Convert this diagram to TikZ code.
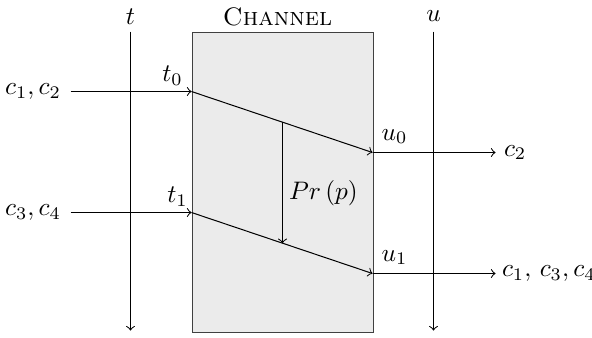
\documentclass[tikz,border=0pt]{standalone}
\begin{document}
\begin{tikzpicture}[x=0.395pt,y=-0.395pt,
  flow/.style={->,line width=0.4pt},
  lbl/.style={inner sep=0pt}]
\useasboundingbox (0,0) rectangle (592,337);
\begin{scope}[shift={(0.5,0.5)}]
% channel box
\node[draw=black!75,fill=black!8,minimum width=181*0.395pt,minimum height=300*0.395pt,inner sep=0pt,anchor=north west] (box) at (191,31) {};
\node[lbl] (chan) at (277,16) {\textsc{Channel}};
% time lines
\coordinate (ttop) at (130,31);
\coordinate (tbot) at (130,330);
\coordinate (utop) at (433,31);
\coordinate (ubot) at (433,330);
\draw[flow] (ttop) -- (tbot);
\draw[flow] (utop) -- (ubot);
\node[lbl] (tl) at (130,16) {$t$};
\node[lbl] (ul) at (433,16) {$u$};
% points
\coordinate (t0) at (191,91);
\coordinate (t1) at (191,212);
\coordinate (u0) at (372,152);
\coordinate (u1) at (372,273);
\coordinate (p0) at (282,121.7);
\coordinate (p1) at (282,242.7);
% inputs
\node[lbl,anchor=east] (in1) at (61,91) {$c_1, c_2$};
\node[lbl,anchor=east] (in2) at (61,212) {$c_3, c_4$};
\draw[flow] (70,91) -- (t0);
\draw[flow] (70,212) -- (t1);
\node[lbl] (t0l) at (172,75) {$t_0$};
\node[lbl] (t1l) at (177,196) {$t_1$};
% diagonals
\draw[flow] (t0) -- (u0);
\draw[flow] (t1) -- (u1);
\draw[flow] (p0) -- (p1);
\node[lbl] (pr) at (323,193) {$Pr\,(p)$};
\node[lbl] (u0l) at (394,136) {$u_0$};
\node[lbl] (u1l) at (394,257) {$u_1$};
% outputs
\node[lbl,anchor=west] (out1) at (503,152) {$c_2$};
\node[lbl,anchor=west] (out2) at (501,273) {$c_1,\, c_3, c_4$};
\draw[flow] (u0) -- (495,152);
\draw[flow] (u1) -- (495,273);
\end{scope}
\end{tikzpicture}
\end{document}
